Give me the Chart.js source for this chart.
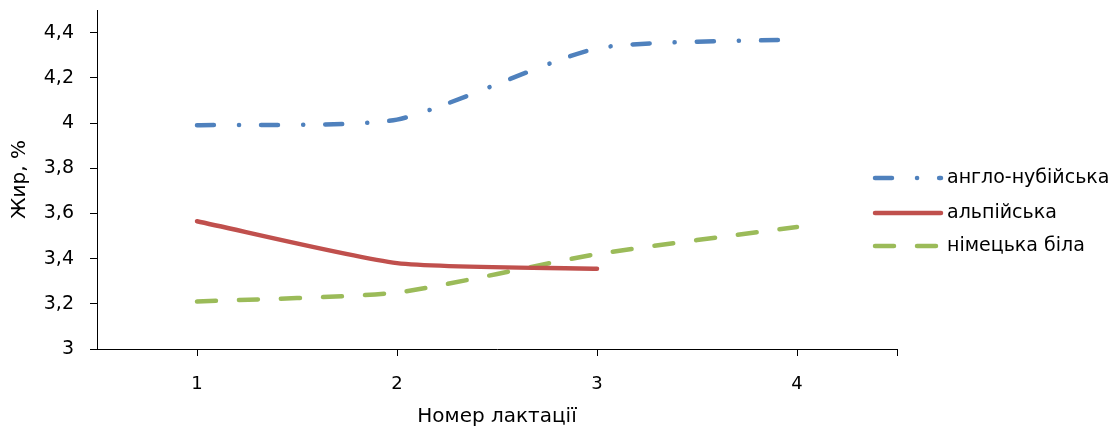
<!DOCTYPE html>
<html>
<head>
<meta charset="utf-8">
<script src="https://cdn.jsdelivr.net/npm/chart.js@4"></script>
<style>
  html, body { margin: 0; padding: 0; background: #fff; }
  #wrap { width: 1119px; height: 430px; position: relative; }
</style>
</head>
<body>
<div id="wrap"><canvas id="fat-chart" width="1119" height="430"></canvas></div>
<script>
// дані з графіка
const lactations = ['1', '2', '3', '4'];
const angloNubian = [3.99, 4.015, 4.33, 4.37];
const alpine = [3.565, 3.38, 3.355, null];
const germanWhite = [3.21, 3.25, 3.42, 3.54];
const seriesNames = ['англо-нубійська', 'альпійська', 'німецька біла'];

const FONT = '"DejaVu Sans", "Open Sans", sans-serif';
const colors = ['#4F81BD', '#C0504D', '#9BBB59'];
const dashes = [[17, 25, 0.1, 22], [], [19, 23]];

function fmt(v) {
  return String(Math.round(v * 10) / 10).replace('.', ',');
}

// легенда справа та крайня поділка осі X
const extras = {
  id: 'extras',
  afterDraw(chart) {
    const ctx = chart.ctx;
    const area = chart.chartArea;
    ctx.save();
    ctx.strokeStyle = '#000';
    ctx.lineWidth = 1;
    ctx.beginPath();
    ctx.moveTo(area.right + 0.5, area.bottom);
    ctx.lineTo(area.right + 0.5, area.bottom + 7);
    ctx.stroke();

    const rows = [178, 213, 246];
    seriesNames.forEach((name, i) => {
      ctx.strokeStyle = colors[i];
      ctx.lineWidth = 4.5;
      ctx.lineCap = 'round';
      ctx.setLineDash(dashes[i]);
      ctx.beginPath();
      ctx.moveTo(875, rows[i]);
      ctx.lineTo(941, rows[i]);
      ctx.stroke();
      ctx.setLineDash([]);
      ctx.fillStyle = '#000';
      ctx.font = '19px ' + FONT;
      ctx.textBaseline = 'middle';
      ctx.fillText(name, 947, rows[i]);
    });
    ctx.restore();
  }
};

function makeSet(label, data, i) {
  return {
    label: label,
    data: data,
    borderColor: colors[i],
    borderWidth: 4.5,
    borderDash: dashes[i],
    borderCapStyle: 'round',
    pointRadius: 0,
    tension: 0.2,
    fill: false
  };
}

new Chart(document.getElementById('fat-chart'), {
  type: 'line',
  data: {
    labels: lactations,
    datasets: [
      makeSet(seriesNames[0], angloNubian, 0),
      makeSet(seriesNames[1], alpine, 1),
      makeSet(seriesNames[2], germanWhite, 2)
    ]
  },
  options: {
    responsive: false,
    animation: false,
    layout: { padding: { top: 10, right: 222, left: 0, bottom: 0 } },
    plugins: { legend: { display: false }, tooltip: { enabled: false } },
    scales: {
      x: {
        offset: true,
        grid: { offset: false, drawOnChartArea: false, color: '#000', tickLength: 7 },
        border: { color: '#000', width: 1 },
        ticks: { color: '#000', font: { family: FONT, size: 18 }, padding: 18 },
        title: { display: true, text: 'Номер лактації', color: '#000', font: { family: FONT, size: 20 }, padding: { top: 2, bottom: 1 } },
        afterFit(scale) { scale.height = 81; }
      },
      y: {
        min: 3,
        max: 4.5,
        grid: { drawOnChartArea: false, color: '#000', tickLength: 7 },
        border: { color: '#000', width: 1 },
        ticks: {
          stepSize: 0.2,
          color: '#000',
          font: { family: FONT, size: 19 },
          padding: 16,
          callback: v => fmt(v)
        },
        afterBuildTicks(scale) {
          scale.ticks = scale.ticks.filter(t => t.value <= 4.41);
        },
        title: { display: true, text: 'Жир, %', color: '#000', font: { family: FONT, size: 20 }, padding: { top: 8, bottom: 0 } },
        afterFit(scale) {
          scale.width = 97;
          scale.paddingTop = 0;
          scale.paddingBottom = 0;
        }
      }
    }
  },
  plugins: [extras]
});
</script>
</body>
</html>
